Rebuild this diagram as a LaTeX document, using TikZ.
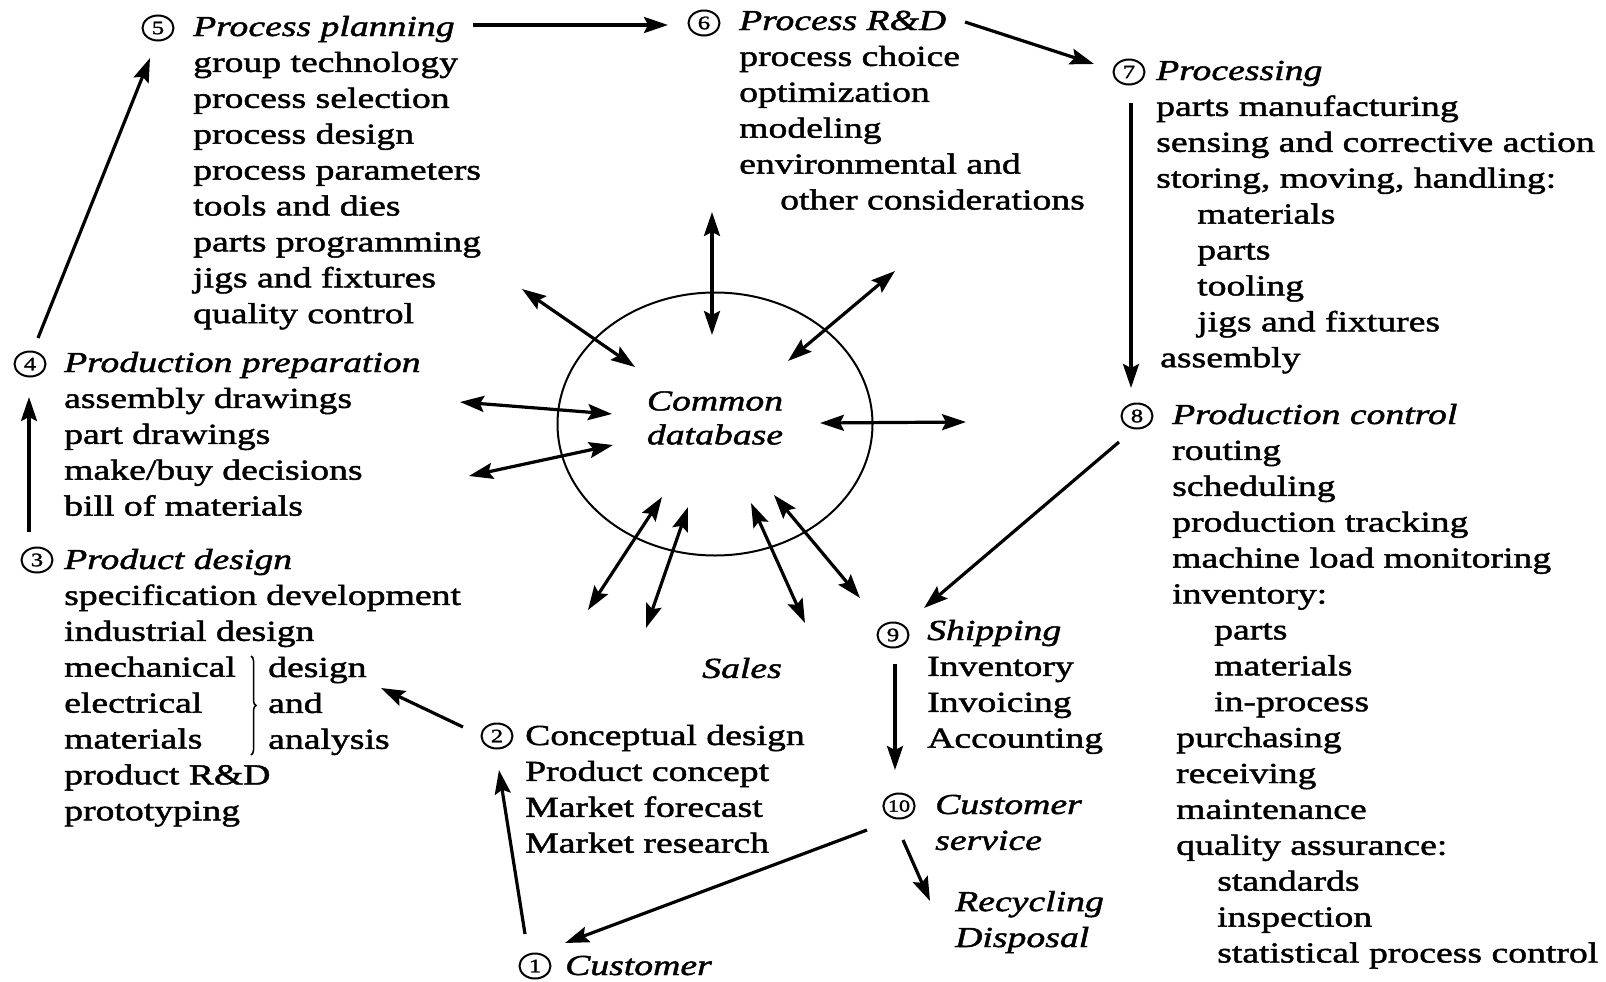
\documentclass[tikz,border=0pt]{standalone}
\usepackage{fontspec}
\setmainfont[FakeStretch=1.30,FakeBold=1.6]{Liberation Serif}
\usetikzlibrary{arrows.meta,shapes.geometric,decorations.pathreplacing}
\begin{document}
\begin{tikzpicture}[x=1pt,y=-1pt,
  txt/.style={anchor=base west, align=left, inner sep=0pt, font=\fontsize{29}{35.9}\selectfont},
  num/.style={draw, ellipse, line width=2pt, minimum width=31pt, minimum height=25pt, inner sep=0pt, font=\fontsize{19}{19}\selectfont},
  ahead/.tip={Stealth[length=24pt,width=16pt,inset=4pt]},
  flow/.style={line width=3.2pt, -ahead},
  both/.style={line width=3.2pt, ahead-ahead},
]
\useasboundingbox[fill=white] (0,0) rectangle (1606,982);

% circled numbers
\node[num] (c1) at (535,966) {1};
\node[num] (c2) at (497,736) {2};
\node[num] (c3) at (37,560) {3};
\node[num] (c4) at (30,364) {4};
\node[num] (c5) at (158,28) {5};
\node[num] (c6) at (704,23) {6};
\node[num] (c7) at (1129,72) {7};
\node[num] (c8) at (1137,416) {8};
\node[num] (c9) at (893,635) {9};
\node[num, font=\fontsize{17}{17}\selectfont] (c10) at (899,806) {10};

% text blocks (anchor = baseline of the LAST line)
\node[txt] (t5) at (193,323.2) {\textit{Process planning}\\group technology\\process selection\\process design\\process parameters\\tools and dies\\parts programming\\jigs and fixtures\\quality control};
\node[txt] (t6) at (739,209.5) {\textit{Process R\&D}\\process choice\\optimization\\modeling\\environmental and\\\hspace*{41pt}other considerations};
\node[txt] (t7) at (1156,367.2) {\textit{Processing}\\parts manufacturing\\sensing and corrective action\\storing, moving, handling:\\\hspace*{41pt}materials\\\hspace*{41pt}parts\\\hspace*{41pt}tooling\\\hspace*{41pt}jigs and fixtures\\\hspace*{4pt}assembly};
\node[txt] (t8) at (1172,962.5) {\textit{Production control}\\routing\\scheduling\\production tracking\\machine load monitoring\\inventory:\\\hspace*{42pt}parts\\\hspace*{42pt}materials\\\hspace*{42pt}in-process\\\hspace*{4pt}purchasing\\\hspace*{4pt}receiving\\\hspace*{4pt}maintenance\\\hspace*{4pt}quality assurance:\\\hspace*{45pt}standards\\\hspace*{45pt}inspection\\\hspace*{45pt}statistical process control};
\node[txt] (t9) at (927,747.7) {\textit{Shipping}\\Inventory\\Invoicing\\Accounting};
\node[txt] (t10) at (935,849.9) {\textit{Customer}\\\textit{service}};
\node[txt] (rec) at (955,947) {\textit{Recycling}\\\textit{Disposal}};
\node[txt] (t1) at (565,975) {\textit{Customer}};
\node[txt] (t2) at (525,852.7) {Conceptual design\\Product concept\\Market forecast\\Market research};
\node[txt] (t3) at (64,820.3) {\textit{Product design}\\specification development\\industrial design\\mechanical\\electrical\\materials\\product R\&D\\prototyping};
\node[txt] (t3b) at (268,748.8) {design\\and\\analysis};
\node[txt] (t4) at (64,515.6) {\textit{Production preparation}\\assembly drawings\\part drawings\\make/buy decisions\\bill of materials};
\node[font=\fontsize{29}{35.9}\selectfont\itshape, inner sep=0pt] (sales) at (742,668) {Sales};

% brace
\coordinate (bt) at (251,656);
\coordinate (bb) at (251,755);
\draw[line width=1.5pt, decorate, decoration={brace, amplitude=5pt}] (bt) -- (bb);

% common database
\node[draw, ellipse, line width=2pt, minimum width=315pt, minimum height=263pt] (db) at (715,424) {};
\node[align=center, inner sep=0pt, font=\fontsize{29}{34}\selectfont\itshape] (dbt) at (715,418) {Common\\database};

% flow arrow endpoints
\coordinate (a45s) at (38,338);   \coordinate (a45e) at (150,58);
\coordinate (a56s) at (473,25);   \coordinate (a56e) at (668,25);
\coordinate (a67s) at (965,22);   \coordinate (a67e) at (1094,64);
\coordinate (a78s) at (1131,103); \coordinate (a78e) at (1131,388);
\coordinate (a89s) at (1119,442); \coordinate (a89e) at (924,608);
\coordinate (a910s) at (895,664); \coordinate (a910e) at (895,770);
\coordinate (a101s) at (867,830); \coordinate (a101e) at (565,943);
\coordinate (a10rs) at (903,840); \coordinate (a10re) at (930,901);
\coordinate (a12s) at (525,934);  \coordinate (a12e) at (499,770);
\coordinate (a23s) at (463,727);  \coordinate (a23e) at (381,688);
\coordinate (a34s) at (29,532);   \coordinate (a34e) at (29,397);

\draw[flow] (a45s) -- (a45e);
\draw[flow] (a56s) -- (a56e);
\draw[flow] (a67s) -- (a67e);
\draw[flow] (a78s) -- (a78e);
\draw[flow] (a89s) -- (a89e);
\draw[flow] (a910s) -- (a910e);
\draw[flow] (a101s) -- (a101e);
\draw[flow] (a10rs) -- (a10re);
\draw[flow] (a12s) -- (a12e);
\draw[flow] (a23s) -- (a23e);
\draw[flow] (a34s) -- (a34e);

% database spokes
\coordinate (s1o) at (712,212);  \coordinate (s1i) at (712,335);
\coordinate (s2o) at (522,289);  \coordinate (s2i) at (635,367);
\coordinate (s3o) at (895,271);  \coordinate (s3i) at (788,361);
\coordinate (s4o) at (460,402);  \coordinate (s4i) at (612,414);
\coordinate (s5o) at (469,476);  \coordinate (s5i) at (613,445);
\coordinate (s6o) at (966,422);  \coordinate (s6i) at (820,423);
\coordinate (s7o) at (588,610);  \coordinate (s7i) at (662,497);
\coordinate (s8o) at (646,628);  \coordinate (s8i) at (688,507);
\coordinate (s9o) at (805,623);  \coordinate (s9i) at (751,503);
\coordinate (s10o) at (860,598); \coordinate (s10i) at (774,495);
\foreach \k in {1,...,10} {\draw[both] (s\k o) -- (s\k i);}
\end{tikzpicture}
\end{document}
